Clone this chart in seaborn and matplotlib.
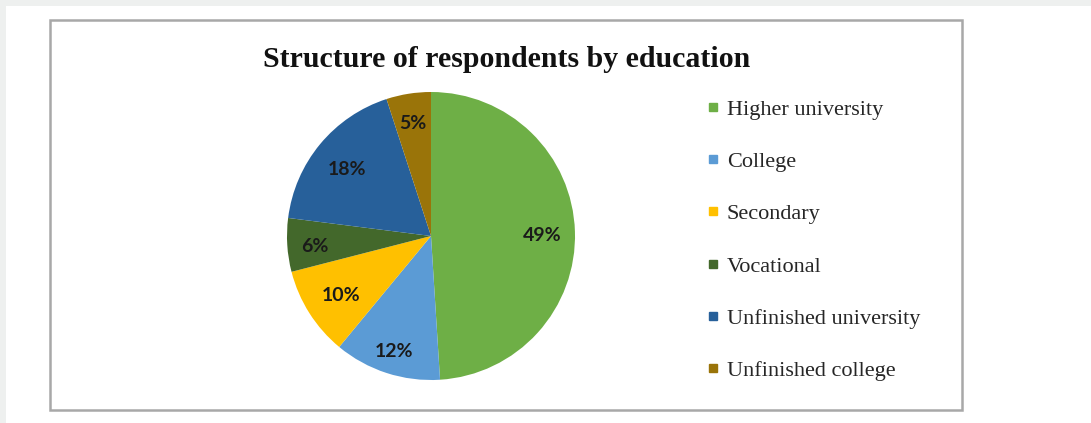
import numpy as np
import matplotlib
matplotlib.use("Agg")
import matplotlib.pyplot as plt
from matplotlib.patches import Rectangle
from matplotlib.lines import Line2D
import seaborn as sns

# Survey data: education structure of respondents (percent)
categories = ["Higher university", "College", "Secondary", "Vocational",
              "Unfinished university", "Unfinished college"]
shares = [49, 12, 10, 6, 18, 5]
colors = ["#6EAF46", "#5B9BD5", "#FFC000", "#43682B", "#27609A", "#9A7409"]
title = "Structure of respondents by education"

# radial position of each percentage label (fraction of the radius)
label_radius = [0.77, 0.82, 0.74, 0.81, 0.76, 0.81]

sns.set_theme(style="white")
palette = sns.color_palette(colors)

W, H = 1091, 423
fig = plt.figure(figsize=(W / 100, H / 100), dpi=100, facecolor="white")

def px(x, y, w, h):
    """Convert top-left pixel box to figure fraction [l, b, w, h]."""
    return [x / W, 1 - (y + h) / H, w / W, h / H]

# page frame: light grey strips on the top and left, then chart border
fig.patches.append(Rectangle((0, 1 - 6 / H), 1, 6 / H, transform=fig.transFigure,
                             facecolor="#eef0ef", edgecolor="none", zorder=-2))
fig.patches.append(Rectangle((0, 0), 6 / W, 1, transform=fig.transFigure,
                             facecolor="#eef0ef", edgecolor="none", zorder=-2))
l, b, w, h = px(50, 20, 912, 390)
fig.patches.append(Rectangle((l, b), w, h, transform=fig.transFigure,
                             facecolor="white", edgecolor="#a8a8a8", linewidth=1.8, zorder=-1))

fig.text(507 / W, 1 - 67 / H, title, ha="center", va="baseline",
         fontsize=21.5, fontweight="bold", family="Liberation Serif", color="#111111")

# pie
cx, cy, r = 431, 236, 144
ax = fig.add_axes(px(cx - r, cy - r, 2 * r, 2 * r))
ax.set_zorder(2)
wedges, _ = ax.pie(shares, colors=palette, startangle=90, counterclock=False,
                   radius=1.0, wedgeprops=dict(linewidth=0))

# percentage labels placed along each wedge's bisector
for wdg, val, dist in zip(wedges, shares, label_radius):
    mid = np.deg2rad((wdg.theta1 + wdg.theta2) / 2)
    ax.text(dist * np.cos(mid), dist * np.sin(mid) - 0.02, f"{val}%",
            ha="center", va="center", fontsize=14, fontweight="bold",
            family="Lato", color="#1a1a1a")

ax.set_xlim(-1, 1)
ax.set_ylim(-1, 1)
ax.set_aspect("equal")
ax.axis("off")

# legend
handles = [Line2D([0], [0], marker="s", linestyle="none", markersize=6,
                  markerfacecolor=c, markeredgecolor=c) for c in palette]
leg = fig.legend(handles, categories, loc="upper left",
                 bbox_to_anchor=(708 / W, 1 - 99 / H), frameon=False,
                 handlelength=0.45, handletextpad=0.4, labelspacing=1.43,
                 borderaxespad=0, borderpad=0,
                 prop=dict(family="Liberation Serif", size=16))
leg.set_zorder(3)

fig.savefig("out.png", dpi=100, facecolor="white")
